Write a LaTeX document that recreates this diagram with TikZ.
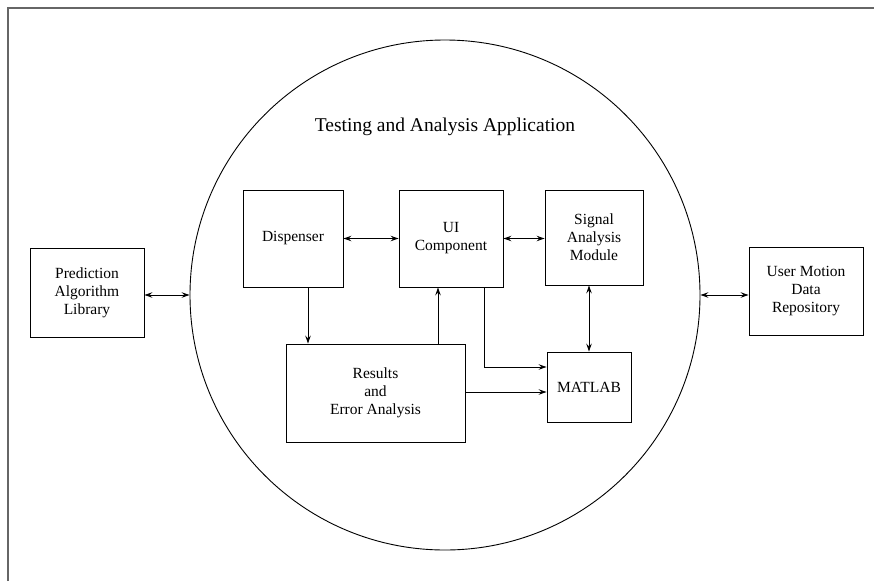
\documentclass[tikz,border=0pt]{standalone}
\usepackage{fontspec}
\setmainfont{Liberation Serif}
\usetikzlibrary{arrows.meta}
\tikzset{
  blk/.style={draw, line width=0.9pt, inner sep=0pt, align=center,
    font=\fontsize{15.5}{18}\selectfont},
  tip/.style={-{Stealth[length=8pt,width=5.5pt,inset=3pt]}},
  dtip/.style={{Stealth[length=8pt,width=5.5pt,inset=3pt]}-{Stealth[length=8pt,width=5.5pt,inset=3pt]}},
  link/.style={line width=0.9pt},
  frameline/.style={draw=black!60, line width=1.8pt}
}
\begin{document}
\begin{tikzpicture}[x=1pt,y=-1pt]
\useasboundingbox (0,0) rectangle (874,581);

% open frame: top and left edges only
\coordinate (fr0) at (8,581);
\coordinate (fr1) at (8,8);
\coordinate (fr2) at (874,8);
\draw[frameline] (fr0) -- (fr1) -- (fr2);

% application boundary
\node[draw, circle, line width=0.9pt, minimum size=510pt, inner sep=0pt] (app) at (445,295) {};
\node[font=\fontsize{19.5}{22}\selectfont] (title) at (445,127) {Testing and Analysis Application};

% blocks
\node[blk, minimum width=114pt, minimum height=89pt] (pal) at (87,292.5) {Prediction\\Algorithm\\Library};
\node[blk, minimum width=114pt, minimum height=88pt] (umd) at (806,291) {User Motion\\Data\\Repository};
\node[blk, minimum width=100pt, minimum height=97pt] (disp) at (293,238.5) {Dispenser};
\node[blk, minimum width=104pt, minimum height=97pt] (ui) at (451,238.5) {UI\\Component};
\node[blk, minimum width=98pt, minimum height=95pt] (sam) at (594,237.5) {Signal\\Analysis\\Module};
\node[blk, minimum width=179pt, minimum height=98pt] (rea) at (375.5,393) {Results\\and\\Error Analysis};
\node[blk, minimum width=84pt, minimum height=70pt] (mat) at (589,387) {MATLAB};

% connectors
\draw[link, dtip] (app.west -| pal.east) -- (app.west);
\draw[link, dtip] (app.east) -- (app.east -| umd.west);
\draw[link, dtip] (disp.east) -- (ui.west);
\draw[link, dtip] (ui.east) -- (ui.east -| sam.west);
\draw[link, dtip] (mat.north |- sam.south) -- (mat.north);
\draw[link, tip] ([xshift=15pt]disp.south) -- ([xshift=15pt]disp.south |- rea.north);
\draw[link, tip] ([xshift=-13pt]ui.south |- rea.north) -- ([xshift=-13pt]ui.south);
\draw[link, tip] ([xshift=33pt]ui.south) |- ([yshift=20pt]mat.west);
\draw[link, tip] ([yshift=1pt]rea.east) -- ([yshift=1pt]rea.east -| mat.west);
\end{tikzpicture}
\end{document}
